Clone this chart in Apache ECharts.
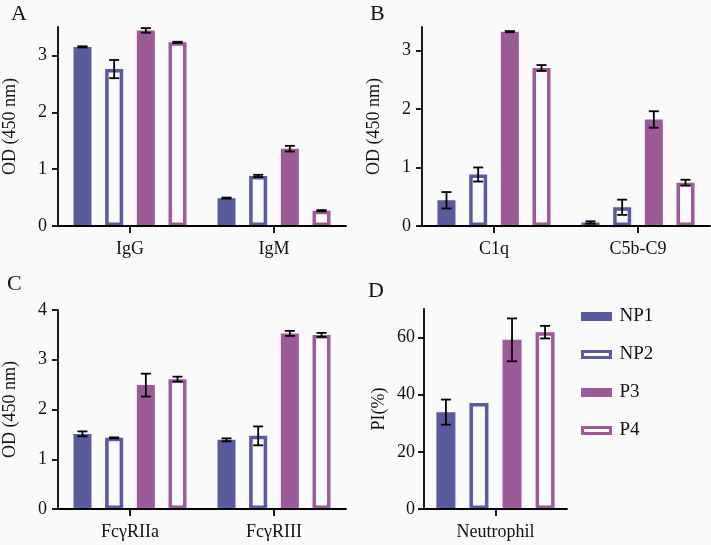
<!DOCTYPE html>
<html>
<head>
<meta charset="utf-8">
<script src="https://cdn.jsdelivr.net/npm/echarts@6/dist/echarts.min.js"></script>
<style>
html,body{margin:0;padding:0;background:#fafafa;}
#c{width:711px;height:545px;}
</style>
</head>
<body>
<div id="c"></div>
<script>
// ---- data ----
const groupNames = ['NP1', 'NP2', 'P3', 'P4'];

const catsA = ['IgG', 'IgM'];
// rows: NP1, NP2, P3, P4
const valuesA = [[3.15, 0.49], [2.76, 0.88], [3.44, 1.36], [3.23, 0.27]];
const errorsA = [[0.01, 0.01], [0.16, 0.02], [0.04, 0.05], [0.01, 0.01]];

const catsB = ['C1q', 'C5b-C9'];
const valuesB = [[0.44, 0.06], [0.88, 0.32], [3.32, 1.82], [2.70, 0.74]];
const errorsB = [[0.14, 0.02], [0.12, 0.13], [0.01, 0.14], [0.05, 0.05]];

const catsC = ['FcγRIIa', 'FcγRIII'];
const valuesC = [[1.51, 1.39], [1.43, 1.47], [2.49, 3.53], [2.61, 3.50]];
const errorsC = [[0.05, 0.03], [0.01, 0.19], [0.23, 0.05], [0.05, 0.04]];

const catsD = ['Neutrophil'];
const valuesD = [[33.9], [37.1], [59.2], [61.9]];
const errorsD = [[4.4], [0], [7.5], [2.2]];

const ticksABC = [0, 1, 2, 3];
const ticksC = [0, 1, 2, 3, 4];
const ticksD = [0, 20, 40, 60];

// ---- styles ----
const BG = '#fafafa';
const BLUE = '#5a5a9e';
const PURPLE = '#9c5a98';
const colors = [BLUE, BLUE, PURPLE, PURPLE];
const hollow = [false, true, false, true];
const FONT = 'Liberation Serif';
const FS = 18;

const panels = [
  {letter: 'A', cats: catsA, values: valuesA, errors: errorsA, max: 3.5, ticks: ticksABC, yName: 'OD (450 nm)',
   grid: {left: 58, top: 27, width: 288, height: 199}, bw: 18, gap: 0.76, nameGap: 39, lblMargin: 11, letterPos: [11, 3]},
  {letter: 'B', cats: catsB, values: valuesB, errors: errorsB, max: 3.4, ticks: ticksABC, yName: 'OD (450 nm)',
   grid: {left: 422, top: 27, width: 288, height: 199}, bw: 18, gap: 0.76, nameGap: 39, lblMargin: 11, letterPos: [370, 3]},
  {letter: 'C', cats: catsC, values: valuesC, errors: errorsC, max: 4, ticks: ticksC, yName: 'OD (450 nm)',
   grid: {left: 58, top: 310, width: 288, height: 199}, bw: 18, gap: 0.76, nameGap: 39, lblMargin: 11, letterPos: [7, 273]},
  {letter: 'D', cats: catsD, values: valuesD, errors: errorsD, max: 70, ticks: ticksD, yName: 'PI(%)',
   grid: {left: 424, top: 309, width: 143, height: 200}, bw: 19, gap: 0.74, nameGap: 36, lblMargin: 9, letterPos: [368, 280]}
];

const grids = [], xAxes = [], yAxes = [], series = [], graphics = [];

panels.forEach((p, pi) => {
  grids.push(Object.assign({containLabel: false}, p.grid));
  xAxes.push({
    type: 'category', gridIndex: pi, data: p.cats, z: 10,
    axisLine: {show: true, lineStyle: {color: '#000', width: 1.8}},
    axisTick: {show: true, alignWithLabel: true, interval: 0, length: 7, lineStyle: {color: '#000', width: 1.8}},
    axisLabel: {color: '#111', fontFamily: FONT, fontSize: FS, margin: 14, interval: 0},
    splitLine: {show: false}
  });
  yAxes.push({
    type: 'value', gridIndex: pi, min: 0, max: p.max, z: 10,
    name: p.yName, nameLocation: 'middle', nameGap: p.nameGap, nameRotate: 90,
    nameTextStyle: {color: '#111', fontFamily: FONT, fontSize: FS},
    axisLine: {show: true, lineStyle: {color: '#000', width: 1.8}},
    axisTick: {show: true, length: 6, lineStyle: {color: '#000', width: 1.8}, customValues: p.ticks},
    axisLabel: {color: '#111', fontFamily: FONT, fontSize: FS, margin: p.lblMargin, customValues: p.ticks},
    splitLine: {show: false}
  });
  groupNames.forEach((name, si) => {
    series.push({
      type: 'bar', name: name, xAxisIndex: pi, yAxisIndex: pi,
      data: p.values[si], barWidth: p.bw, barGap: (p.gap * 100) + '%',
      itemStyle: {color: hollow[si] ? BG : colors[si], borderColor: colors[si], borderWidth: 3.5},
      emphasis: {disabled: true}, z: 2
    });
  });
  const errData = [];
  groupNames.forEach((name, si) => {
    p.values[si].forEach((v, ci) => {
      const e = p.errors[si][ci];
      if (e > 0) errData.push([ci, si, v - e, v + e]);
    });
  });
  const spacing = p.bw * (1 + p.gap);
  series.push({
    type: 'custom', xAxisIndex: pi, yAxisIndex: pi, z: 5, silent: true,
    data: errData, encode: {x: 0, y: [2, 3]},
    renderItem: function (params, api) {
      const c = api.value(0), s = api.value(1);
      const lo = api.coord([c, api.value(2)]);
      const hi = api.coord([c, api.value(3)]);
      const x = lo[0] + (s - 1.5) * spacing;
      const hw = 5;
      const st = {stroke: '#000', lineWidth: 1.8};
      return {type: 'group', children: [
        {type: 'line', shape: {x1: x, y1: lo[1], x2: x, y2: hi[1]}, style: st},
        {type: 'line', shape: {x1: x - hw, y1: lo[1], x2: x + hw, y2: lo[1]}, style: st},
        {type: 'line', shape: {x1: x - hw, y1: hi[1], x2: x + hw, y2: hi[1]}, style: st}
      ]};
    }
  });
  graphics.push({type: 'text', left: p.letterPos[0], top: p.letterPos[1],
    style: {text: p.letter, font: '22px "Liberation Serif"', fill: '#111'}});
});

const chart = echarts.init(document.getElementById('c'), null, {renderer: 'canvas'});
chart.setOption({
  backgroundColor: BG,
  animation: false,
  grid: grids,
  xAxis: xAxes,
  yAxis: yAxes,
  series: series,
  graphic: graphics,
  legend: {
    orient: 'vertical', left: 576, top: 302, itemWidth: 28, itemHeight: 6, itemGap: 19,
    textStyle: {color: '#111', fontFamily: FONT, fontSize: 19, padding: [0, 0, 0, 4]},
    data: groupNames.map((n, i) => ({name: n, icon: 'rect',
      itemStyle: {color: hollow[i] ? '#ffffff' : colors[i], borderColor: colors[i], borderWidth: 3}}))
  }
});
</script>
</body>
</html>
